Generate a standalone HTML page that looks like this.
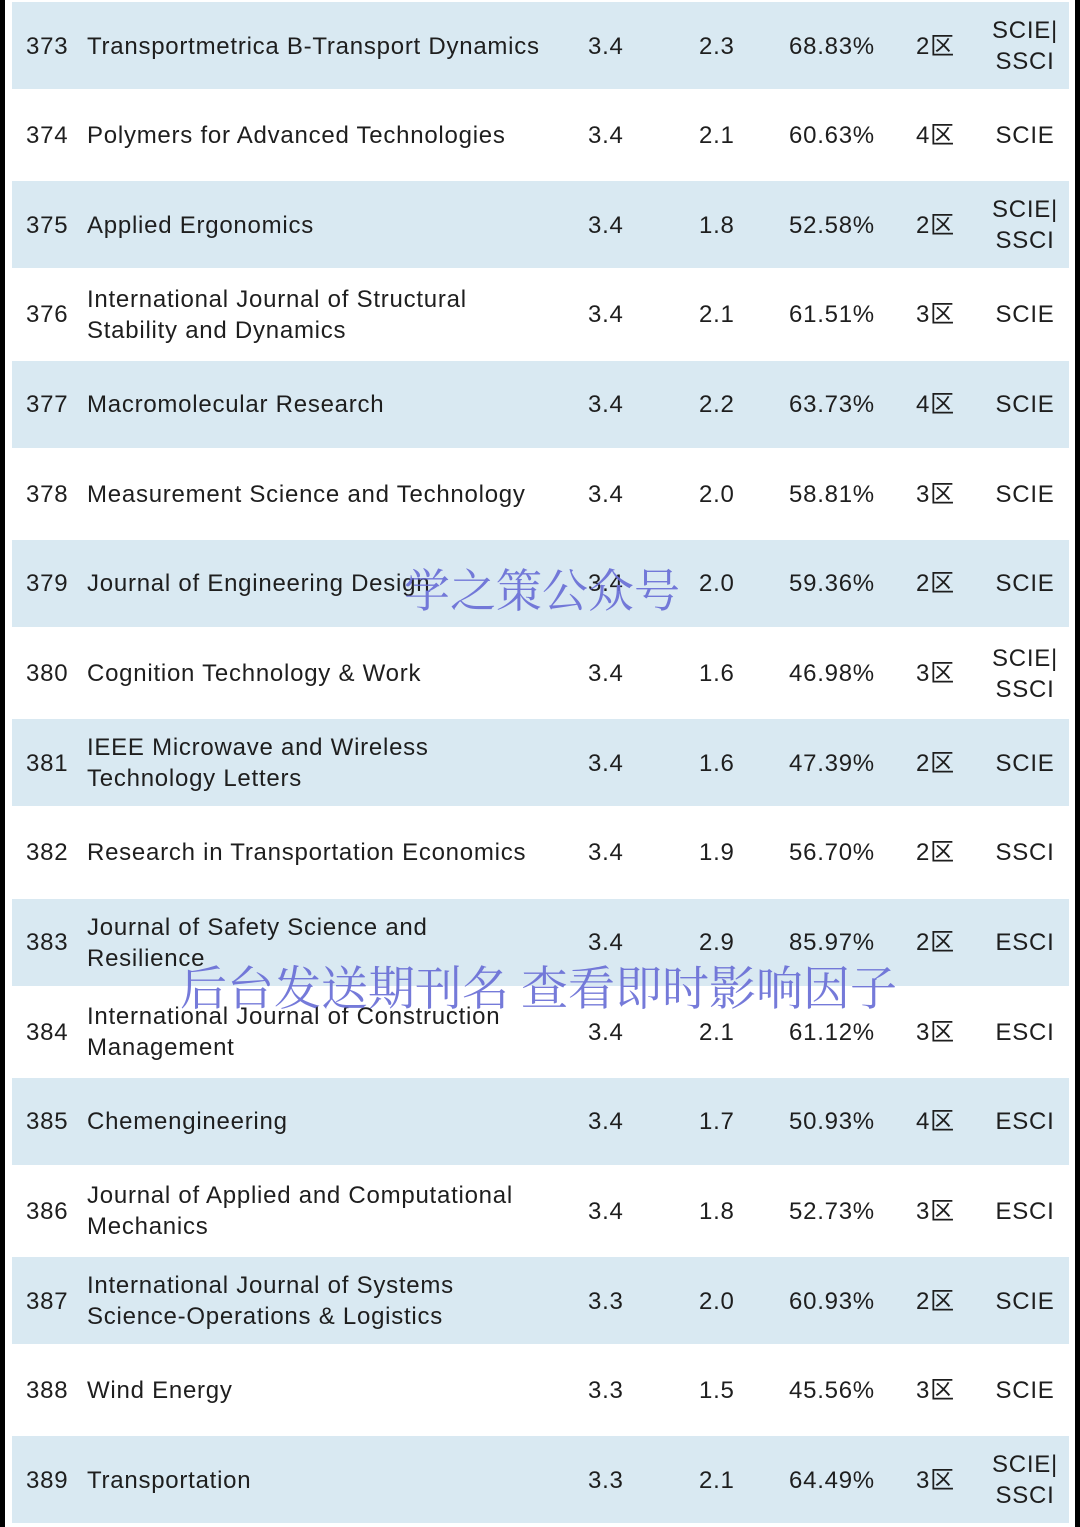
<!DOCTYPE html>
<html><head><meta charset="utf-8">
<style>
html,body{margin:0;padding:0;}
body{width:1080px;height:1527px;position:relative;background:#fff;overflow:hidden;
font-family:"Liberation Sans","Noto Sans CJK SC",sans-serif;color:#1e1e1e;}
.bar{position:absolute;top:0;height:1527px;width:5px;background:#000;}
.row{position:absolute;left:12px;width:1057px;height:88px;}
.blue{background:#d9e9f2;}
.c{position:absolute;font-size:24px;line-height:31px;white-space:nowrap;letter-spacing:0.75px;}
.wm{position:absolute;font-family:"Noto Serif CJK SC","WenQuanYi Zen Hei",serif;color:#6a6fd6;white-space:nowrap;opacity:.92;}
</style></head><body>
<div class="bar" style="left:0"></div>
<div class="bar" style="right:0"></div>
<div id="tbl"></div>
<div class="wm" style="left:404px;top:555px;font-size:46px;">学之策公众号</div>
<div class="wm" style="left:180px;top:952px;font-size:47px;">后台发送期刊名 查看即时影响因子</div>
<script>
const rows=[
["373",["Transportmetrica B-Transport Dynamics"],"3.4","2.3","68.83%","2区",["SCIE|","SSCI"]],
["374",["Polymers for Advanced Technologies"],"3.4","2.1","60.63%","4区",["SCIE"]],
["375",["Applied Ergonomics"],"3.4","1.8","52.58%","2区",["SCIE|","SSCI"]],
["376",["International Journal of Structural","Stability and Dynamics"],"3.4","2.1","61.51%","3区",["SCIE"]],
["377",["Macromolecular Research"],"3.4","2.2","63.73%","4区",["SCIE"]],
["378",["Measurement Science and Technology"],"3.4","2.0","58.81%","3区",["SCIE"]],
["379",["Journal of Engineering Design"],"3.4","2.0","59.36%","2区",["SCIE"]],
["380",["Cognition Technology & Work"],"3.4","1.6","46.98%","3区",["SCIE|","SSCI"]],
["381",["IEEE Microwave and Wireless","Technology Letters"],"3.4","1.6","47.39%","2区",["SCIE"]],
["382",["Research in Transportation Economics"],"3.4","1.9","56.70%","2区",["SSCI"]],
["383",["Journal of Safety Science and","Resilience"],"3.4","2.9","85.97%","2区",["ESCI"]],
["384",["International Journal of Construction","Management"],"3.4","2.1","61.12%","3区",["ESCI"]],
["385",["Chemengineering"],"3.4","1.7","50.93%","4区",["ESCI"]],
["386",["Journal of Applied and Computational","Mechanics"],"3.4","1.8","52.73%","3区",["ESCI"]],
["387",["International Journal of Systems","Science-Operations & Logistics"],"3.3","2.0","60.93%","2区",["SCIE"]],
["388",["Wind Energy"],"3.3","1.5","45.56%","3区",["SCIE"]],
["389",["Transportation"],"3.3","2.1","64.49%","3区",["SCIE|","SSCI"]]
];
const tbl=document.getElementById('tbl');
const pitch=89.65, top0=2;
function cell(parent,name,left,lines,align){
  const d=document.createElement('div');
  
  
  d.className='c';
  const h=lines.length*31;
  d.style.top=((88-h)/2)+'px';
  if(align==='center'){d.style.left=(left-60)+'px';d.style.width='120px';d.style.textAlign='center';}
  else d.style.left=left+'px';
  d.innerHTML=lines.join('<br>');
  parent.appendChild(d);
}
rows.forEach((r,i)=>{
  const row=document.createElement('div');
  
  
  row.className='row'+(i%2===0?' blue':'');
  row.style.top=(top0+i*pitch)+'px';
  if(i%2===0) row.style.height='87px';
  cell(row,'rank',14,[r[0]]);
  cell(row,'journal-name',75,r[1]);
  cell(row,'impact-factor',576,[r[2]]);
  cell(row,'five-year-value',687,[r[3]]);
  cell(row,'percentile',777,[r[4]]);
  cell(row,'zone',904,[r[5]]);
  cell(row,'index',1013,r[6],'center');
  tbl.appendChild(row);
});
</script>
</body></html>
